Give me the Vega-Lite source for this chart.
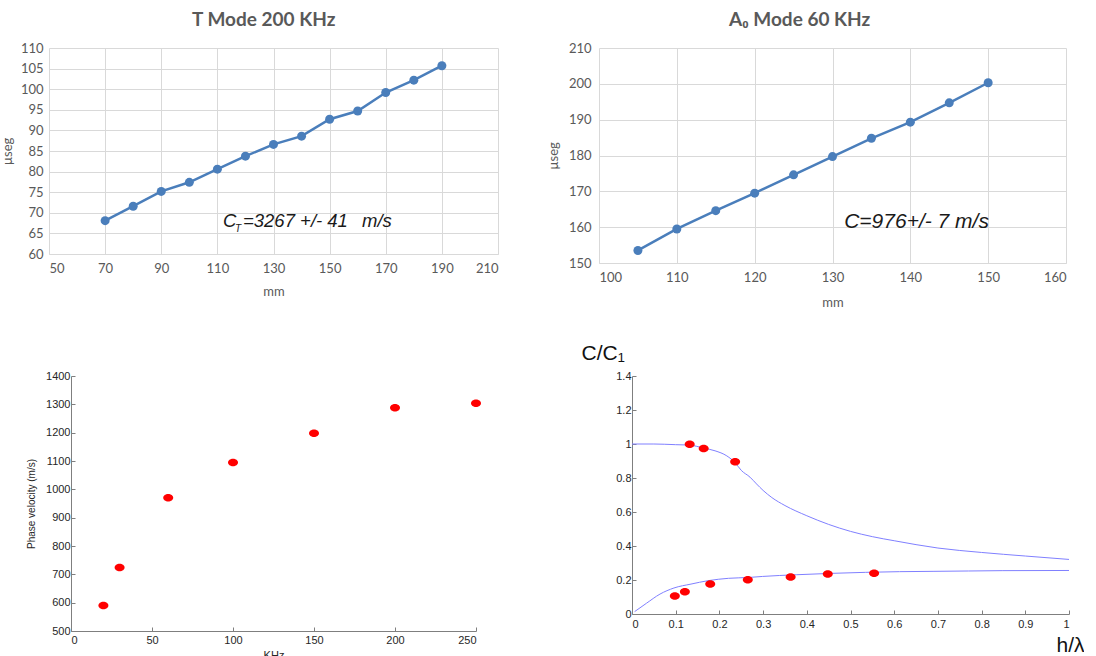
{
  "$schema": "https://vega.github.io/schema/vega-lite/v6.json",
  "background": "white",
  "padding": {"left": 1, "top": 11, "right": 0, "bottom": 0},
  "config": {"view": {"stroke": null}},
  "datasets": {
    "tmode": [
      {"mm": 70, "us": 68.1}, {"mm": 80, "us": 71.6}, {"mm": 90, "us": 75.2}, {"mm": 100, "us": 77.4},
      {"mm": 110, "us": 80.6}, {"mm": 120, "us": 83.75}, {"mm": 130, "us": 86.6}, {"mm": 140, "us": 88.6},
      {"mm": 150, "us": 92.7}, {"mm": 160, "us": 94.7}, {"mm": 170, "us": 99.2}, {"mm": 180, "us": 102.2},
      {"mm": 190, "us": 105.7}
    ],
    "a0": [
      {"mm": 105, "us": 153.5}, {"mm": 110, "us": 159.5}, {"mm": 115, "us": 164.6}, {"mm": 120, "us": 169.5},
      {"mm": 125, "us": 174.6}, {"mm": 130, "us": 179.7}, {"mm": 135, "us": 184.8}, {"mm": 140, "us": 189.3},
      {"mm": 145, "us": 194.7}, {"mm": 150, "us": 200.3}
    ],
    "phase": [
      {"khz": 20, "v": 590}, {"khz": 30, "v": 724}, {"khz": 60, "v": 970}, {"khz": 100, "v": 1095},
      {"khz": 150, "v": 1198}, {"khz": 200, "v": 1288}, {"khz": 250, "v": 1304}
    ],
    "curves": [
      {"series": "upper", "h": 0, "c": 1.0}, {"series": "upper", "h": 0.05, "c": 1.0},
      {"series": "upper", "h": 0.1, "c": 0.996}, {"series": "upper", "h": 0.13, "c": 0.994},
      {"series": "upper", "h": 0.164, "c": 0.976}, {"series": "upper", "h": 0.19, "c": 0.96},
      {"series": "upper", "h": 0.217, "c": 0.93}, {"series": "upper", "h": 0.236, "c": 0.89},
      {"series": "upper", "h": 0.25, "c": 0.845}, {"series": "upper", "h": 0.27, "c": 0.805},
      {"series": "upper", "h": 0.285, "c": 0.765}, {"series": "upper", "h": 0.3, "c": 0.727},
      {"series": "upper", "h": 0.32, "c": 0.685}, {"series": "upper", "h": 0.35, "c": 0.638},
      {"series": "upper", "h": 0.4, "c": 0.578}, {"series": "upper", "h": 0.45, "c": 0.527},
      {"series": "upper", "h": 0.5, "c": 0.486}, {"series": "upper", "h": 0.55, "c": 0.455},
      {"series": "upper", "h": 0.6, "c": 0.431}, {"series": "upper", "h": 0.7, "c": 0.388},
      {"series": "upper", "h": 0.8, "c": 0.362}, {"series": "upper", "h": 0.9, "c": 0.341},
      {"series": "upper", "h": 1.0, "c": 0.321},
      {"series": "lower", "h": 0.006, "c": 0.014}, {"series": "lower", "h": 0.033, "c": 0.063},
      {"series": "lower", "h": 0.064, "c": 0.117}, {"series": "lower", "h": 0.096, "c": 0.153},
      {"series": "lower", "h": 0.135, "c": 0.176}, {"series": "lower", "h": 0.174, "c": 0.196},
      {"series": "lower", "h": 0.221, "c": 0.21}, {"series": "lower", "h": 0.268, "c": 0.215},
      {"series": "lower", "h": 0.299, "c": 0.221}, {"series": "lower", "h": 0.377, "c": 0.231},
      {"series": "lower", "h": 0.456, "c": 0.239}, {"series": "lower", "h": 0.534, "c": 0.245},
      {"series": "lower", "h": 0.612, "c": 0.249}, {"series": "lower", "h": 0.691, "c": 0.251},
      {"series": "lower", "h": 0.77, "c": 0.253}, {"series": "lower", "h": 0.847, "c": 0.255},
      {"series": "lower", "h": 1.0, "c": 0.256}
    ],
    "measured": [
      {"h": 0.132, "c": 0.999}, {"h": 0.164, "c": 0.973}, {"h": 0.236, "c": 0.895},
      {"h": 0.098, "c": 0.106}, {"h": 0.121, "c": 0.131}, {"h": 0.179, "c": 0.176},
      {"h": 0.265, "c": 0.202}, {"h": 0.363, "c": 0.217}, {"h": 0.448, "c": 0.235},
      {"h": 0.554, "c": 0.239}
    ]
  },
  "columns": 1,
  "align": "none",
  "spacing": 33,
  "concat": [
    {
      "hconcat": [
        {
          "width": 449,
          "height": 206,
          "data": {"name": "tmode"},
          "title": {"text": "T Mode  200 KHz", "font": "Lato", "fontSize": 19, "fontWeight": "bold", "color": "#595959", "frame": "bounds", "anchor": "middle", "offset": 12, "dx": 14},
          "encoding": {
            "x": {"field": "mm", "type": "quantitative", "scale": {"domain": [50, 210], "nice": false, "zero": false},
              "axis": {"values": [50, 70, 90, 110, 130, 150, 170, 190, 210], "title": "mm", "grid": true, "gridColor": "#d9d9d9", "domainColor": "#d9d9d9", "ticks": false,
                "labelColor": "#595959", "labelFont": "Lato", "labelFontSize": 13, "labelPadding": 8,
                "titleColor": "#595959", "titleFont": "Lato", "titleFontSize": 13, "titleFontWeight": "normal", "titlePadding": 10}},
            "y": {"field": "us", "type": "quantitative", "scale": {"domain": [60, 110], "nice": false, "zero": false},
              "axis": {"values": [60, 65, 70, 75, 80, 85, 90, 95, 100, 105, 110], "title": "µseg", "grid": true, "gridColor": "#d9d9d9", "domain": false, "ticks": false,
                "labelColor": "#595959", "labelFont": "Lato", "labelFontSize": 13, "labelPadding": 6,
                "titleColor": "#595959", "titleFont": "Lato", "titleFontSize": 13, "titleFontWeight": "normal", "titlePadding": 6}}
          },
          "layer": [
            {"mark": {"type": "line", "color": "#4a7ebb", "strokeWidth": 2.5}},
            {"mark": {"type": "point", "filled": true, "opacity": 1, "size": 81, "color": "#4a7ebb"}},
            {"data": {"values": [{"mm": 112, "us": 69, "t": "C"}]},
              "mark": {"type": "text", "align": "left", "baseline": "alphabetic", "font": "Liberation Sans", "fontStyle": "italic", "fontSize": 18.5, "color": "#1a1a1a", "dy": 10},
              "encoding": {"text": {"field": "t"}}},
            {"data": {"values": [{"mm": 112, "us": 69, "t": "T"}]},
              "mark": {"type": "text", "align": "left", "baseline": "alphabetic", "font": "Liberation Sans", "fontStyle": "italic", "fontSize": 10, "color": "#1a1a1a", "dx": 12, "dy": 15},
              "encoding": {"text": {"field": "t"}}},
            {"data": {"values": [{"mm": 112, "us": 69, "t": "=3267 +/- 41"}]},
              "mark": {"type": "text", "align": "left", "baseline": "alphabetic", "font": "Liberation Sans", "fontStyle": "italic", "fontSize": 18.5, "color": "#1a1a1a", "dx": 20, "dy": 10},
              "encoding": {"text": {"field": "t"}}},
            {"data": {"values": [{"mm": 112, "us": 69, "t": "m/s"}]},
              "mark": {"type": "text", "align": "left", "baseline": "alphabetic", "font": "Liberation Sans", "fontStyle": "italic", "fontSize": 18.5, "color": "#1a1a1a", "dx": 139, "dy": 10},
              "encoding": {"text": {"field": "t"}}}
          ]
        },
        {
          "width": 467,
          "height": 215,
          "data": {"name": "a0"},
          "title": {"text": "A₀ Mode 60 KHz", "font": "Lato", "fontSize": 19, "fontWeight": "bold", "color": "#595959", "frame": "bounds", "anchor": "middle", "offset": 12, "dx": -7},
          "encoding": {
            "x": {"field": "mm", "type": "quantitative", "scale": {"domain": [100, 160], "nice": false, "zero": false},
              "axis": {"values": [100, 110, 120, 130, 140, 150, 160], "title": "mm", "grid": true, "gridColor": "#d9d9d9", "domainColor": "#d9d9d9", "ticks": false,
                "labelColor": "#595959", "labelFont": "Lato", "labelFontSize": 13, "labelPadding": 8,
                "titleColor": "#595959", "titleFont": "Lato", "titleFontSize": 13, "titleFontWeight": "normal", "titlePadding": 12}},
            "y": {"field": "us", "type": "quantitative", "scale": {"domain": [150, 210], "nice": false, "zero": false},
              "axis": {"values": [150, 160, 170, 180, 190, 200, 210], "title": "µseg", "grid": true, "gridColor": "#d9d9d9", "domain": false, "ticks": false,
                "labelColor": "#595959", "labelFont": "Lato", "labelFontSize": 13, "labelPadding": 8,
                "titleColor": "#595959", "titleFont": "Lato", "titleFontSize": 13, "titleFontWeight": "normal", "titlePadding": 8}}
          },
          "layer": [
            {"mark": {"type": "line", "color": "#4a7ebb", "strokeWidth": 2.5}},
            {"mark": {"type": "point", "filled": true, "opacity": 1, "size": 81, "color": "#4a7ebb"}},
            {"data": {"values": [{"mm": 131.5, "us": 161.4, "t": "C=976+/- 7 m/s"}]},
              "mark": {"type": "text", "align": "left", "baseline": "middle", "font": "Liberation Sans", "fontStyle": "italic", "fontSize": 21, "color": "#1a1a1a"},
              "encoding": {"text": {"field": "t"}}}
          ]
        }
      ],
      "spacing": 101,
      "bounds": "flush"
    },
    {
      "hconcat": [
        {
          "width": 427,
          "height": 255,
          "data": {"name": "phase"},
          "mark": {"type": "point", "filled": true, "opacity": 1, "color": "#ff0000", "size": 100, "shape": "M-1,0A1,0.75,0,1,1,1,0A1,0.75,0,1,1,-1,0Z"},
          "encoding": {
            "x": {"field": "khz", "type": "quantitative", "scale": {"domain": [0, 250], "nice": false, "range": [22, 427]},
              "axis": {"values": [0, 50, 100, 150, 200, 250], "format": "d", "title": "KHz", "grid": false, "domainColor": "#7f7f7f", "tickColor": "#7f7f7f", "tickSize": -4,
                "labelColor": "#262626", "labelFont": "Liberation Sans", "labelFontSize": 11, "labelPadding": 7,
                "titleColor": "#262626", "titleFont": "Liberation Sans", "titleFontSize": 11, "titleFontWeight": "normal", "titlePadding": 4}},
            "y": {"field": "v", "type": "quantitative", "scale": {"domain": [500, 1400], "nice": false, "zero": false},
              "axis": {"values": [500, 600, 700, 800, 900, 1000, 1100, 1200, 1300, 1400], "format": "d", "title": "Phase velocity (m/s)", "offset": -22, "grid": false, "domainColor": "#7f7f7f", "tickColor": "#7f7f7f", "tickSize": -4,
                "labelColor": "#262626", "labelFont": "Liberation Sans", "labelFontSize": 11, "labelPadding": 5,
                "titleColor": "#262626", "titleFont": "Liberation Sans", "titleFontSize": 10, "titleFontWeight": "normal", "titlePadding": 9}}
          }
        },
        {
          "width": 437,
          "height": 238,
          "encoding": {
            "x": {"field": "h", "type": "quantitative", "scale": {"domain": [0, 1], "nice": false},
              "axis": {"values": [0, 0.1, 0.2, 0.3, 0.4, 0.5, 0.6, 0.7, 0.8, 0.9, 1], "format": "~g", "title": "h/λ", "titleX": 452, "titleY": 31, "titleAlign": "right", "titleBaseline": "middle", "titleAngle": 0,
                "grid": false, "domainColor": "#7f7f7f", "tickColor": "#7f7f7f", "tickSize": -4,
                "labelColor": "#262626", "labelFont": "Liberation Sans", "labelFontSize": 11, "labelPadding": 8,
                "titleColor": "#111111", "titleFont": "Liberation Sans", "titleFontSize": 21, "titleFontWeight": "normal"}},
            "y": {"field": "c", "type": "quantitative", "scale": {"domain": [0, 1.4], "nice": false, "zero": false},
              "axis": {"values": [0, 0.2, 0.4, 0.6, 0.8, 1, 1.2, 1.4], "format": "~g", "title": "C/C₁", "titleX": -51, "titleY": -23, "titleAlign": "left", "titleBaseline": "middle", "titleAngle": 0,
                "grid": false, "domainColor": "#7f7f7f", "tickColor": "#7f7f7f", "tickSize": -4,
                "labelColor": "#262626", "labelFont": "Liberation Sans", "labelFontSize": 11, "labelPadding": 5,
                "titleColor": "#111111", "titleFont": "Liberation Sans", "titleFontSize": 21, "titleFontWeight": "normal"}}
          },
          "layer": [
            {"data": {"name": "curves"},
              "mark": {"type": "line", "color": "#8080ff", "strokeWidth": 1, "interpolate": "monotone"},
              "encoding": {"detail": {"field": "series"}}},
            {"data": {"name": "measured"},
              "mark": {"type": "point", "filled": true, "opacity": 1, "color": "#ff0000", "size": 100, "shape": "M-1,0A1,0.75,0,1,1,1,0A1,0.75,0,1,1,-1,0Z"}}
          ]
        }
      ],
      "spacing": 156,
      "bounds": "flush"
    }
  ]
}
